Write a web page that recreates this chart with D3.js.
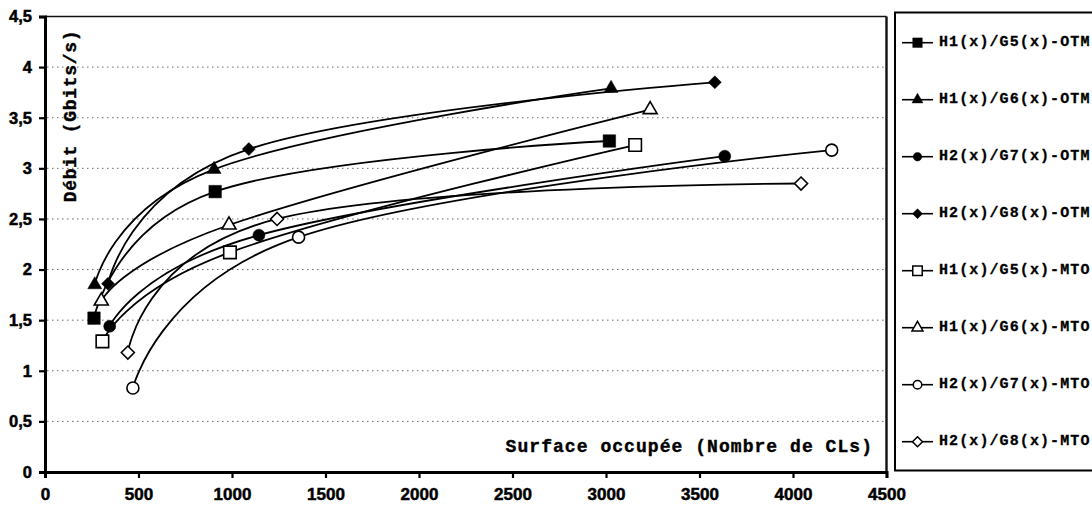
<!DOCTYPE html>
<html>
<head>
<meta charset="utf-8">
<script src="https://cdn.jsdelivr.net/npm/d3@7"></script>
<style>
  html, body { margin: 0; padding: 0; background: #fff; }
  svg { display: block; }
</style>
</head>
<body>
<svg id="chart" width="1092" height="508"></svg>
<script>
// ---- data ----
const seriesNames = [
  "H1(x)/G5(x)-OTM", "H1(x)/G6(x)-OTM", "H2(x)/G7(x)-OTM", "H2(x)/G8(x)-OTM",
  "H1(x)/G5(x)-MTO", "H1(x)/G6(x)-MTO", "H2(x)/G7(x)-MTO", "H2(x)/G8(x)-MTO"
];
const h1g5OtmX = [262, 910, 3018];  const h1g5OtmY = [1.52, 2.77, 3.27];
const h1g6OtmX = [266, 904, 3027];  const h1g6OtmY = [1.85, 2.99, 3.79];
const h2g7OtmX = [346, 1144, 3635]; const h2g7OtmY = [1.44, 2.34, 3.12];
const h2g8OtmX = [337, 1090, 3582]; const h2g8OtmY = [1.86, 3.19, 3.85];
const h1g5MtoX = [307, 989, 3156];  const h1g5MtoY = [1.29, 2.17, 3.23];
const h1g6MtoX = [301, 984, 3236];  const h1g6MtoY = [1.69, 2.44, 3.58];
const h2g7MtoX = [470, 1356, 4207]; const h2g7MtoY = [0.83, 2.32, 3.18];
const h2g8MtoX = [443, 1241, 4043]; const h2g8MtoY = [1.18, 2.50, 2.85];
const markerShapes = ["square", "triangle", "circle", "diamond", "square", "triangle", "circle", "diamond"];
const markerFilled = [true, true, true, true, false, false, false, false];
const xTicks = [0, 500, 1000, 1500, 2000, 2500, 3000, 3500, 4000, 4500];
const yTicks = [0, 0.5, 1, 1.5, 2, 2.5, 3, 3.5, 4, 4.5];
const yTickLabels = ["0", "0,5", "1", "1,5", "2", "2,5", "3", "3,5", "4", "4,5"];
const xTitle = "Surface occupée (Nombre de CLs)";
const yTitle = "Débit (Gbits/s)";

const allX = [h1g5OtmX, h1g6OtmX, h2g7OtmX, h2g8OtmX, h1g5MtoX, h1g6MtoX, h2g7MtoX, h2g8MtoX];
const allY = [h1g5OtmY, h1g6OtmY, h2g7OtmY, h2g8OtmY, h1g5MtoY, h1g6MtoY, h2g7MtoY, h2g8MtoY];
const series = seriesNames.map((name, i) => ({
  name, shape: markerShapes[i], filled: markerFilled[i],
  points: allX[i].map((x, j) => ({ x, y: allY[i][j] }))
}));

// ---- layout ----
const svg = d3.select("#chart");
const L = 45, R = 886.5, T = 16.5, B = 472;
const x = d3.scaleLinear().domain([0, 4500]).range([L, R]);
const y = d3.scaleLinear().domain([0, 4.5]).range([B, T]);

function symbolPath(shape, s) {
  if (shape === "square") return d3.symbol(d3.symbolSquare, s * s)();
  if (shape === "circle") return d3.symbol(d3.symbolCircle, Math.PI * (s / 2) * (s / 2))();
  if (shape === "triangle") return d3.symbol(d3.symbolTriangle, s * s * Math.sqrt(3) / 4)();
  if (shape === "diamond") {
    const h = s / 2;
    return `M0,${-h}L${h},0L0,${h}L${-h},0Z`;
  }
}
const markerSize = { square: 12.5, circle: 12, triangle: 14, diamond: 13 };
const legendMarkerSize = { square: 9.5, circle: 8.5, triangle: 11, diamond: 10 };

// gridlines
svg.append("g").selectAll("line")
  .data(yTicks.filter(v => v > 0 && v < 4.5))
  .join("line")
  .attr("x1", L + 2).attr("x2", R - 1)
  .attr("y1", d => y(d)).attr("y2", d => y(d))
  .attr("stroke", "#6a6a6a").attr("stroke-width", 1)
  .attr("stroke-dasharray", "1.5 3.5");

// plot border top/right
svg.append("line").attr("x1", L).attr("x2", R).attr("y1", T).attr("y2", T)
  .attr("stroke", "#111").attr("stroke-width", 1.6);
svg.append("line").attr("x1", R).attr("x2", R).attr("y1", T).attr("y2", B)
  .attr("stroke", "#111").attr("stroke-width", 2.4);

// axes
const xAxis = d3.axisBottom(x).tickValues(xTicks).tickSize(6).tickFormat(d3.format("d"));
const gx = svg.append("g").attr("transform", `translate(0,${B})`).call(xAxis);
gx.select(".domain").attr("stroke", "#000").attr("stroke-width", 3);
gx.selectAll(".tick line").attr("stroke", "#000").attr("stroke-width", 2.2);
gx.selectAll(".tick text")
  .attr("y", 16).attr("dy", "0.71em")
  .style("font-family", "'Liberation Sans', Arial, sans-serif")
  .style("font-weight", "bold").style("font-size", "17px")
  .attr("fill", "#000").attr("stroke", "#000").attr("stroke-width", 0.5);

const yAxis = d3.axisLeft(y).tickValues(yTicks).tickSize(6)
  .tickFormat((d, i) => yTickLabels[i]);
const gy = svg.append("g").attr("transform", `translate(${L},0)`).call(yAxis);
gy.select(".domain").attr("stroke", "#000").attr("stroke-width", 3);
gy.selectAll(".tick line").attr("stroke", "#000").attr("stroke-width", 2.2);
gy.selectAll(".tick text")
  .attr("x", -13)
  .style("font-family", "'Liberation Sans', Arial, sans-serif")
  .style("font-weight", "bold").style("font-size", "16.5px")
  .attr("fill", "#000").attr("stroke", "#000").attr("stroke-width", 0.5);

// axis titles
svg.append("text")
  .attr("x", 873).attr("y", 447)
  .attr("text-anchor", "end").attr("dominant-baseline", "central")
  .style("font-family", "'Liberation Mono', 'Courier New', monospace")
  .style("font-weight", "bold").style("font-size", "18px")
  .style("letter-spacing", "1.05px")
  .attr("stroke", "#000").attr("stroke-width", 0.4)
  .text(xTitle);
svg.append("text")
  .attr("transform", "translate(71,116) rotate(-90)")
  .attr("text-anchor", "middle").attr("dominant-baseline", "central")
  .style("font-family", "'Liberation Mono', 'Courier New', monospace")
  .style("font-weight", "bold").style("font-size", "18px")
  .style("letter-spacing", "0.7px")
  .attr("stroke", "#000").attr("stroke-width", 0.4)
  .text(yTitle);

// curves
const line = d3.line().x(d => x(d.x)).y(d => y(d.y)).curve(d3.curveCardinal.tension(-0.2));
const gs = svg.append("g");
gs.selectAll("path.series")
  .data(series).join("path")
  .attr("class", "series")
  .attr("d", d => line(d.points))
  .attr("fill", "none").attr("stroke", "#000").attr("stroke-width", 1.8);

// markers
series.forEach(s => {
  gs.append("g").selectAll("path")
    .data(s.points).join("path")
    .attr("transform", d => `translate(${x(d.x)},${y(d.y)})`)
    .attr("d", symbolPath(s.shape, markerSize[s.shape]))
    .attr("fill", s.filled ? "#000" : "#fff")
    .attr("stroke", "#000").attr("stroke-width", s.filled ? 0.5 : 1.6);
});

// legend
const lg = svg.append("g");
lg.append("rect").attr("x", 895).attr("y", 12.5).attr("width", 215).attr("height", 458)
  .attr("fill", "#fff").attr("stroke", "#000").attr("stroke-width", 2);
const ly = i => 42.7 + i * 57;
const items = lg.selectAll("g.item").data(series).join("g")
  .attr("class", "item")
  .attr("transform", (d, i) => `translate(0,${ly(i)})`);
items.append("line").attr("x1", 902).attr("x2", 933).attr("y1", 0).attr("y2", 0)
  .attr("stroke", "#000").attr("stroke-width", 1.6);
items.append("path")
  .attr("transform", "translate(917.5,0)")
  .attr("d", d => symbolPath(d.shape, legendMarkerSize[d.shape]))
  .attr("fill", d => d.filled ? "#000" : "#fff")
  .attr("stroke", "#000").attr("stroke-width", d => d.filled ? 0.5 : 1.5);
items.append("text")
  .attr("x", 939).attr("y", 0).attr("dominant-baseline", "central")
  .style("font-family", "'Liberation Mono', 'Courier New', monospace")
  .style("font-weight", "bold").style("font-size", "15px")
  .style("letter-spacing", "1.1px")
  .attr("stroke", "#000").attr("stroke-width", 0.3)
  .text(d => d.name);
</script>
</body>
</html>
